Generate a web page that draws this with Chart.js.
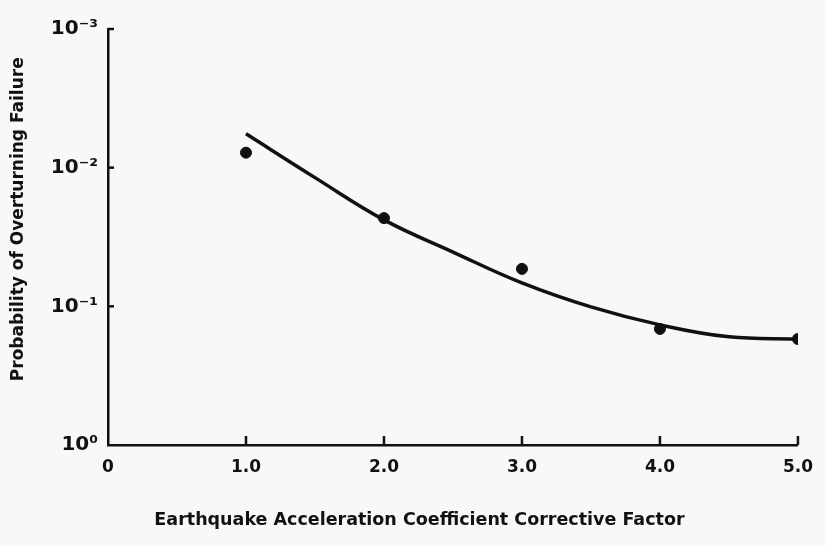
<!DOCTYPE html>
<html><head><meta charset="utf-8">
<script src="https://cdn.jsdelivr.net/npm/chart.js@4/dist/chart.umd.min.js"></script>
<style>html,body{margin:0;padding:0;background:#f8f8f7;}#wrap{width:825px;height:546px;position:relative}canvas{display:block}</style>
</head><body><div id="wrap"><canvas id="c" width="825" height="546"></canvas></div>
<script>
// ---- data ----
const xTickValues = [0, 1, 2, 3, 4, 5];
const xTickLabels = ["0", "1.0", "2.0", "3.0", "4.0", "5.0"];
const yTickValues = [0.001, 0.01, 0.1, 1];
const yTickLabels = ["10⁻³", "10⁻²", "10⁻¹", "10⁰"];
const pointX = [1, 2, 3, 4, 5];
const pointY = [0.0078, 0.0231, 0.0537, 0.1455, 0.172];
const curveX = [1.0, 1.5, 2.0, 2.5, 3.0, 3.5, 4.0, 4.5, 5.0];
const curveY = [0.0057, 0.0118, 0.0238, 0.0406, 0.0678, 0.101, 0.136, 0.166, 0.172];
const xTitle = "Earthquake Acceleration Coefficient Corrective Factor";
const yTitle = "Probability of Overturning Failure";

const FONT = "'DejaVu Sans', sans-serif";
const INK = "#111";

const innerTicks = {
  id: 'innerTicks',
  afterDraw(chart) {
    const ctx = chart.ctx;
    const xs = chart.scales.x, ys = chart.scales.y;
    ctx.save();
    ctx.strokeStyle = INK; ctx.lineWidth = 2.5;
    xs.ticks.forEach((t, i) => {
      if (t.value === 0) return;
      const px = xs.getPixelForValue(t.value);
      ctx.beginPath(); ctx.moveTo(px, xs.top); ctx.lineTo(px, xs.top - 9); ctx.stroke();
    });
    ys.ticks.forEach((t) => {
      if (t.value === 1) return;
      const py = ys.getPixelForValue(t.value);
      ctx.beginPath(); ctx.moveTo(ys.right, py); ctx.lineTo(ys.right + 6, py); ctx.stroke();
    });
    ctx.restore();
  }
};

new Chart(document.getElementById('c'), {
  type: 'scatter',
  data: {
    datasets: [
      {
        type: 'line',
        data: curveX.map((x, i) => ({x, y: curveY[i]})),
        borderColor: INK, borderWidth: 3.5, pointRadius: 0,
        tension: 0.4, fill: false
      },
      {
        data: pointX.map((x, i) => ({x, y: pointY[i]})),
        backgroundColor: INK, borderColor: INK, pointRadius: 5.5, showLine: false
      }
    ]
  },
  options: {
    responsive: false, animation: false, devicePixelRatio: 1,
    layout: { padding: { top: 29, right: 27, left: 0, bottom: 0 } },
    plugins: { legend: { display: false }, tooltip: { enabled: false } },
    scales: {
      x: {
        type: 'linear', min: 0, max: 5,
        afterBuildTicks: s => { s.ticks = xTickValues.map(v => ({value: v})); },
        afterFit: s => { s.height = 101; },
        grid: { display: true, drawOnChartArea: false, drawTicks: false },
        border: { display: true, color: INK, width: 2.5 },
        ticks: {
          padding: 12, color: INK, maxRotation: 0, autoSkip: false,
          font: { family: FONT, weight: 'bold', size: 17 },
          callback: (v) => xTickLabels[xTickValues.indexOf(v)]
        },
        title: {
          display: true, text: xTitle + '           ', color: INK,
          font: { family: FONT, weight: 'bold', size: 17.5 },
          padding: { top: 0, bottom: 15 }
        }
      },
      y: {
        type: 'logarithmic', min: 0.001, max: 1, reverse: true,
        afterBuildTicks: s => { s.ticks = yTickValues.map(v => ({value: v})); },
        afterFit: s => { s.width = 108; },
        grid: { display: true, drawOnChartArea: false, drawTicks: false },
        border: { display: true, color: INK, width: 2.5 },
        ticks: {
          padding: 10, color: INK, autoSkip: false,
          font: { family: FONT, weight: 'bold', size: 20 },
          callback: (v) => yTickLabels[yTickValues.indexOf(v)]
        },
        title: {
          display: true, text: '      ' + yTitle, color: INK,
          font: { family: FONT, weight: 'bold', size: 17 },
          padding: { top: 8, bottom: 0 }
        }
      }
    }
  },
  plugins: [innerTicks]
});
</script></body></html>
